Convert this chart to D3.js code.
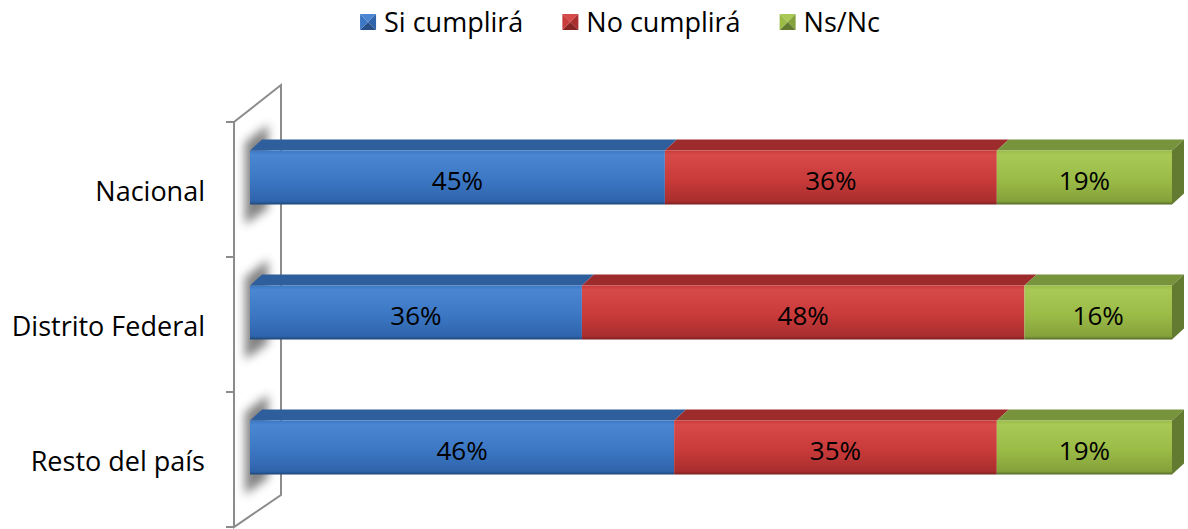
<!DOCTYPE html>
<html><head><meta charset="utf-8">
<script src="https://cdn.jsdelivr.net/npm/d3@7"></script>
<style>body{margin:0;background:#fff}svg{display:block}text{font-family:"Open Sans","Noto Sans",sans-serif}</style>
</head><body>
<svg id="c" width="1188" height="529"></svg>
<script>
const categories = ["Nacional", "Distrito Federal", "Resto del país"];
const seriesNames = ["Si cumplirá", "No cumplirá", "Ns/Nc"];
const siCumplira = [45, 36, 46];
const noCumplira = [36, 48, 35];
const nsNc = [19, 16, 19];
const seriesValues = [siCumplira, noCumplira, nsNc];

const palette = [
  {front:["#4a86d2","#3c77c4","#2f64ab"], top:"#2f5e9c", side:"#284f86", dark:"#1f4577"},
  {front:["#d64a49","#c93a3a","#a92e2e"], top:"#9e2b2b", side:"#862424", dark:"#7a1f1f"},
  {front:["#a9c957","#9bbb47","#84a13a"], top:"#77933c", side:"#637b31", dark:"#55692a"}
];

const svg = d3.select("#c");
const defs = svg.append("defs");
palette.forEach((p,i)=>{
  const g = defs.append("linearGradient").attr("id","gf"+i).attr("x1",0).attr("y1",0).attr("x2",0).attr("y2",1);
  g.append("stop").attr("offset","0").attr("stop-color",p.front[1]);
  g.append("stop").attr("offset","0.08").attr("stop-color",p.front[0]);
  g.append("stop").attr("offset","0.55").attr("stop-color",p.front[1]);
  g.append("stop").attr("offset","0.94").attr("stop-color",p.front[2]);
  g.append("stop").attr("offset","1").attr("stop-color",p.dark);
});
const f = defs.append("filter").attr("id","blur").attr("filterUnits","userSpaceOnUse")
  .attr("x",0).attr("y",0).attr("width",1188).attr("height",529);
f.append("feGaussianBlur").attr("stdDeviation",5);

const y = d3.scaleBand().domain(categories).range([122, 527]).paddingInner(0).paddingOuter(0);
const x = d3.scaleLinear().domain([0, 100]).range([250, 1172]);
const barH = y.bandwidth() * 0.4;
const dx = 12, dy = 11, lift = 12;

// wall
const wall = svg.append("g");
wall.append("path").attr("d","M234,122 L281,85 L281,495 L234,527 Z").attr("fill","#fff").attr("stroke","none");
categories.forEach(c=>{
  const yc = y(c) + y.bandwidth()/2 - lift;
  wall.append("path")
    .attr("d",`M245,${yc - barH/2 - 8} L268,${yc - barH/2 - 26} L268,${yc + barH/2 + 4} L245,${yc + barH/2 + 20} Z`)
    .attr("fill","#6e6e6e").attr("opacity",0.85).attr("filter","url(#blur)");
});
wall.append("path").attr("d","M234,527 L234,122 L281,85 L281,495 Z").attr("fill","none").attr("stroke","#8c8c8c").attr("stroke-width",2);
const ticks = y.domain().map(c=>y(c)).concat([y.range()[1]]);
wall.selectAll("line.tk").data(ticks).join("line").attr("class","tk")
  .attr("x1",226).attr("x2",234).attr("y1",d=>d).attr("y2",d=>d).attr("stroke","#8c8c8c").attr("stroke-width",2);

// category labels
svg.selectAll("text.cat").data(categories).join("text").attr("class","cat")
  .attr("x",205).attr("y",c=>y(c)+y.bandwidth()/2 + 11).attr("text-anchor","end")
  .attr("font-size",27).attr("fill","#000").text(c=>c);

// bars
categories.forEach((c,ci)=>{
  const yc = y(c) + y.bandwidth()/2 - lift;
  const y0 = yc - barH/2, y1 = yc + barH/2;
  let acc = 0;
  const segs = seriesValues.map((s,si)=>{ const a = acc; acc += s[ci]; return {si, a, b: acc, v: s[ci]}; });
  const g = svg.append("g");
  segs.forEach(s=>{
    const xa = x(s.a), xb = x(s.b), p = palette[s.si];
    g.append("path").attr("d",`M${xa},${y0} L${xa+dx},${y0-dy} L${xb+dx},${y0-dy} L${xb},${y0} Z`).attr("fill",p.top);
  });
  const last = segs[segs.length-1];
  const xe = x(last.b);
  g.append("path").attr("d",`M${xe},${y0} L${xe+dx},${y0-dy} L${xe+dx},${y1-dy} L${xe},${y1} Z`).attr("fill",palette[last.si].side);
  segs.forEach(s=>{
    const xa = x(s.a), xb = x(s.b);
    g.append("rect").attr("x",xa).attr("y",y0).attr("width",xb-xa).attr("height",barH).attr("fill",`url(#gf${s.si})`);
    g.append("text").attr("x",(xa+xb)/2).attr("y",yc+12).attr("text-anchor","middle")
      .attr("font-size",26).attr("fill","#000").text(s.v+"%");
  });
});

// legend
const leg = svg.append("g");
const items = seriesNames.map((n,i)=>({n,i}));
const tmp = leg.append("text").attr("font-size",27);
const widths = items.map(d=>{tmp.text(d.n); return tmp.node().getComputedTextLength();});
tmp.remove();
const box = 16, gap1 = 8, gap2 = 39;
const total = widths.reduce((a,w)=>a+box+gap1+w,0) + gap2*(items.length-1);
let lx = 620 - total/2;
items.forEach((d,i)=>{
  const p = palette[i], by = 14, bx = lx;
  const cx = bx+box/2, cy = by+box/2;
  const tri = (pts,col)=>leg.append("path").attr("d","M"+pts.map(q=>q.join(",")).join("L")+"Z").attr("fill",col);
  tri([[bx,by],[bx+box,by],[cx,cy]], p.front[0]);
  tri([[bx+box,by],[bx+box,by+box],[cx,cy]], p.front[2]);
  tri([[bx,by+box],[bx+box,by+box],[cx,cy]], p.side);
  tri([[bx,by],[bx,by+box],[cx,cy]], p.front[1]);
  leg.append("text").attr("x",bx+box+gap1).attr("y",32).attr("font-size",27).text(d.n);
  lx += box+gap1+widths[i]+gap2;
});
</script>
</body></html>
